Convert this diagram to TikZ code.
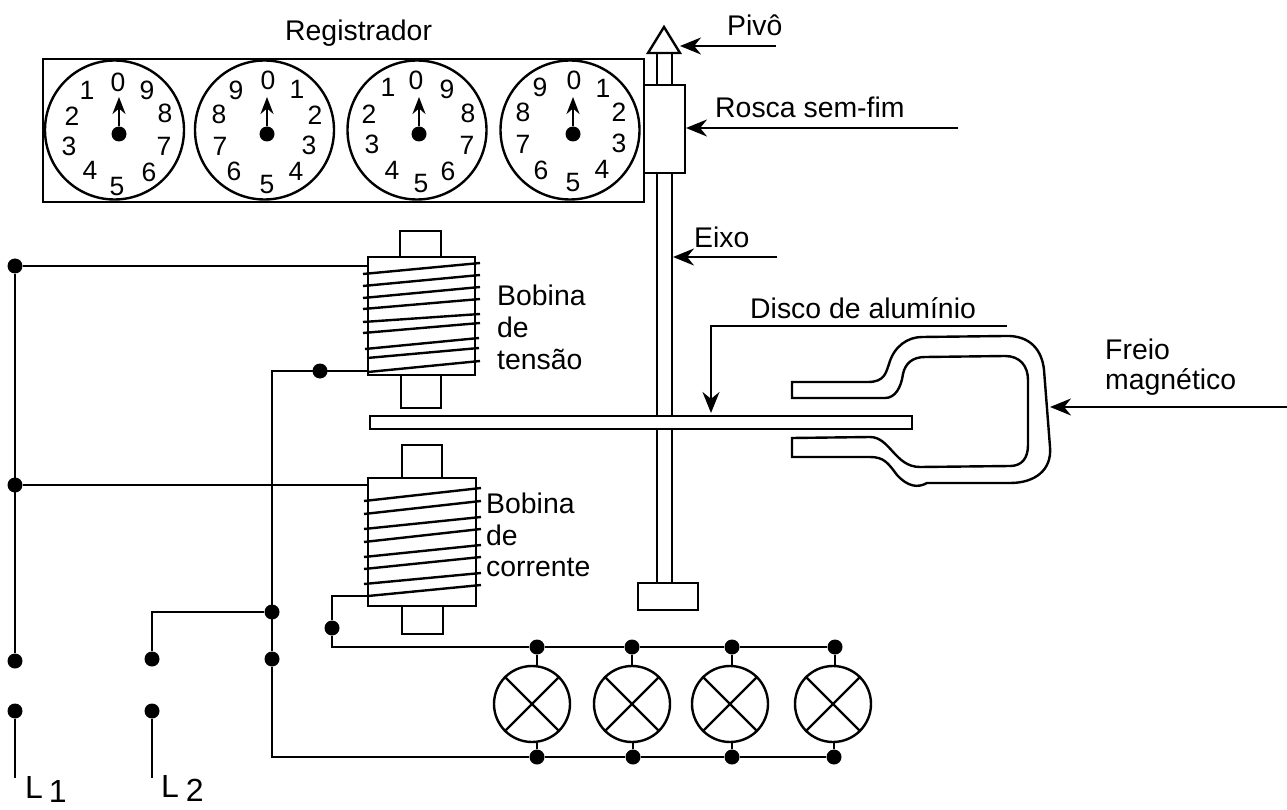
\documentclass[tikz,border=0pt]{standalone}
\usepackage{fontspec}
\setmainfont{Liberation Sans}
\usetikzlibrary{arrows.meta}
\tikzset{
  wire/.style={line width=2.4pt, line join=miter},
  pointer/.style={line width=2.4pt, -{Stealth[length=21pt,width=17pt]}},
  needle/.style={line width=2.6pt, -{Stealth[length=17pt,width=13pt]}},
  dial/.style={circle, draw, line width=2.4pt, minimum size=139pt, inner sep=0pt},
  lamp/.style={circle, draw, line width=2.4pt, minimum size=76pt, inner sep=0pt},
  dot/.style={circle, fill=black, minimum size=15pt, inner sep=0pt},
  hub/.style={circle, fill=black, minimum size=15pt, inner sep=0pt},
  digit/.style={draw=none, inner sep=0pt, font=\fontsize{26.5}{26.5}\selectfont},
  lbl/.style={draw=none, inner sep=0pt, anchor=west, font=\fontsize{28.4}{28.4}\selectfont},
  line/.style={draw=none, inner sep=0pt, anchor=west, font=\fontsize{32}{32}\selectfont}
}
\begin{document}
\begin{tikzpicture}[x=1pt,y=-1pt]
  \useasboundingbox (0,0) rectangle (1287,810);

  % registrador
  \node[lbl] (regname) at (285,33) {Registrador};
  \draw[wire] (43,59) rectangle (644,202);
  \node[dial] (dial1) at (114.5,130) {};
  \node[dial] (dial2) at (264.5,130) {};
  \node[dial] (dial3) at (417,130) {};
  \node[dial] (dial4) at (570,130) {};

  \node[digit] (a0) at (118,82) {0};
  \node[digit] (a1) at (87,90) {1};
  \node[digit] (a2) at (72,116) {2};
  \node[digit] (a3) at (69,146) {3};
  \node[digit] (a4) at (90,170) {4};
  \node[digit] (a5) at (117,187) {5};
  \node[digit] (a6) at (149,172) {6};
  \node[digit] (a7) at (164,146) {7};
  \node[digit] (a8) at (165,113) {8};
  \node[digit] (a9) at (147,90) {9};

  \node[digit] (b0) at (268,80) {0};
  \node[digit] (b1) at (297,89) {1};
  \node[digit] (b2) at (315,115) {2};
  \node[digit] (b3) at (309,145) {3};
  \node[digit] (b4) at (296,171) {4};
  \node[digit] (b5) at (267,185) {5};
  \node[digit] (b6) at (234,171) {6};
  \node[digit] (b7) at (220,146) {7};
  \node[digit] (b8) at (219,114) {8};
  \node[digit] (b9) at (236,90) {9};

  \node[digit] (c0) at (416,80) {0};
  \node[digit] (c1) at (388,87) {1};
  \node[digit] (c2) at (369,114) {2};
  \node[digit] (c3) at (372,144) {3};
  \node[digit] (c4) at (392,170) {4};
  \node[digit] (c5) at (421,184) {5};
  \node[digit] (c6) at (448,171) {6};
  \node[digit] (c7) at (467,145) {7};
  \node[digit] (c8) at (468,113) {8};
  \node[digit] (c9) at (447,89) {9};

  \node[digit] (d0) at (574,80) {0};
  \node[digit] (d1) at (603,88) {1};
  \node[digit] (d2) at (619,112) {2};
  \node[digit] (d3) at (619,143) {3};
  \node[digit] (d4) at (602,169) {4};
  \node[digit] (d5) at (573,183) {5};
  \node[digit] (d6) at (541,170) {6};
  \node[digit] (d7) at (523,144) {7};
  \node[digit] (d8) at (523,112) {8};
  \node[digit] (d9) at (540,87) {9};

  % ponteiros
  \node[hub] (hub1) at (119,134) {};
  \node[hub] (hub2) at (267,134) {};
  \node[hub] (hub3) at (419,134) {};
  \node[hub] (hub4) at (573,134) {};
  \coordinate (tip1) at (119,97);
  \coordinate (tip2) at (267,97);
  \coordinate (tip3) at (419,97);
  \coordinate (tip4) at (573,97);
  \draw[needle] (hub1) -- (tip1);
  \draw[needle] (hub2) -- (tip2);
  \draw[needle] (hub3) -- (tip3);
  \draw[needle] (hub4) -- (tip4);

  % eixo, pivo e rosca
  \draw[wire] (664,27) -- (680,53) -- (648,53) -- cycle;
  \draw[wire] (657,53) -- (657,85);
  \draw[wire] (672,53) -- (672,85);
  \draw[wire] (644,85) -- (685,85) -- (685,173) -- (644,173);
  \draw[wire] (657,173) -- (657,583);
  \draw[wire] (672,173) -- (672,583);
  \draw[wire] (638,583) rectangle (698,610);

  % disco
  \draw[wire, fill=white] (370,416) rectangle (912,429);

  % freio
  \draw[wire] (792,382) -- (868,382)
     .. controls (885,382) and (886,372) .. (889,364)
     .. controls (894,346) and (908,337) .. (922,337)
     -- (1005,336)
     .. controls (1030,335) and (1042,350) .. (1044,370)
     -- (1050,447)
     .. controls (1052,470) and (1035,483) .. (1010,483)
     -- (927,483)
     .. controls (918,488) and (908,487) .. (897,475)
     .. controls (888,463) and (884,457) .. (870,457)
     -- (792,457) -- (792,438) -- (870,437)
     .. controls (890,437) and (895,467) .. (920,467)
     -- (1010,466)
     .. controls (1022,466) and (1028,458) .. (1028,445)
     -- (1028,380)
     .. controls (1028,366) and (1020,356) .. (1005,356)
     -- (925,357)
     .. controls (912,357) and (905,364) .. (903,374)
     .. controls (901,388) and (895,398) .. (885,398)
     -- (792,398) -- cycle;

  % bobina de tensao
  \draw[wire] (400,257) -- (400,231) -- (441,231) -- (441,257);
  \draw[wire] (368,257) rectangle (475,375);
  \draw[wire] (401,375) -- (401,408) -- (441,408) -- (441,375);
  \draw[wire] (363,274) -- (480,263);
  \draw[wire] (363,286) -- (480,275);
  \draw[wire] (363,298) -- (480,287);
  \draw[wire] (363,309) -- (480,299);
  \draw[wire] (363,322) -- (480,314);
  \draw[wire] (363,333) -- (480,323);
  \draw[wire] (365,349) -- (479,338);
  \draw[wire] (367,358) -- (479,348);
  \draw[wire] (368,372) -- (480,361);
  \node[lbl] (tens1) at (497,295) {Bobina};
  \node[lbl] (tens2) at (497,327) {de};
  \node[lbl] (tens3) at (497,359) {tensão};

  % bobina de corrente
  \draw[wire] (402,478) -- (402,445) -- (442,445) -- (442,478);
  \draw[wire] (368,478) rectangle (476,606);
  \draw[wire] (402,606) -- (402,634) -- (443,634) -- (443,606);
  \draw[wire] (364,501) -- (481,488);
  \draw[wire] (364,514) -- (481,501);
  \draw[wire] (364,529) -- (481,517);
  \draw[wire] (364,542) -- (481,529);
  \draw[wire] (364,557) -- (481,545);
  \draw[wire] (364,569) -- (481,557);
  \draw[wire] (364,584) -- (481,573);
  \draw[wire] (368,596) -- (481,585);
  \node[lbl] (corr1) at (486,503) {Bobina};
  \node[lbl] (corr2) at (486,535) {de};
  \node[lbl] (corr3) at (486,567) {corrente};

  % setas e legendas
  \node[lbl] (pivname) at (727,25) {Pivô};
  \coordinate (pivfrom) at (776,46);
  \coordinate (pivto) at (680,46);
  \draw[pointer] (pivfrom) -- (pivto);
  \node[lbl] (rosname) at (715,107) {Rosca sem-fim};
  \coordinate (rosfrom) at (958,128);
  \coordinate (rosto) at (686,128);
  \draw[pointer] (rosfrom) -- (rosto);
  \node[lbl] (eixname) at (694,237) {Eixo};
  \coordinate (eixfrom) at (777,257);
  \coordinate (eixto) at (673,257);
  \draw[pointer] (eixfrom) -- (eixto);
  \node[lbl] (disname) at (750,308) {Disco de alumínio};
  \coordinate (disfrom) at (1007,326);
  \coordinate (disto) at (711,413);
  \draw[pointer] (disfrom) -| (disto);
  \node[lbl] (frename) at (1105,349) {Freio};
  \node[lbl] (frename2) at (1105,382) {magnético};
  \coordinate (frefrom) at (1287,407);
  \coordinate (freto) at (1050,407);
  \draw[pointer] (frefrom) -- (freto);

  % fiacao
  \node[dot] (n1) at (15,266) {};
  \node[dot] (n2) at (15,485) {};
  \node[dot] (n3) at (15,661) {};
  \node[dot] (n4) at (15,711) {};
  \node[dot] (n5) at (152,659) {};
  \node[dot] (n6) at (152,711) {};
  \node[dot] (n7) at (320,371) {};
  \node[dot] (n8) at (272,612) {};
  \node[dot] (n9) at (272,659) {};
  \node[dot] (n10) at (332,628) {};
  \coordinate (tensin) at (368,266);
  \coordinate (tensout) at (368,371);
  \coordinate (corrin) at (368,485);
  \coordinate (corrout) at (368,596);
  \coordinate (bend) at (272,371);
  \coordinate (l1end) at (15,778);
  \coordinate (l2end) at (152,778);
  \draw[wire] (n1) -- (tensin);
  \draw[wire] (n2) -- (corrin);
  \draw[wire] (n1) -- (n3);
  \draw[wire] (n4) -- (l1end);
  \draw[wire] (n6) -- (l2end);
  \draw[wire] (n8) -| (n5);
  \draw[wire] (tensout) -- (bend) -- (n9);
  \draw[wire] (corrout) -| (n10);

  % lampadas
  \node[lamp] (lamp1) at (532,704) {};
  \node[lamp] (lamp2) at (632,704) {};
  \node[lamp] (lamp3) at (730,704) {};
  \node[lamp] (lamp4) at (833,704) {};
  \draw[wire] (lamp1.45) -- (lamp1.225);
  \draw[wire] (lamp1.135) -- (lamp1.315);
  \draw[wire] (lamp2.45) -- (lamp2.225);
  \draw[wire] (lamp2.135) -- (lamp2.315);
  \draw[wire] (lamp3.45) -- (lamp3.225);
  \draw[wire] (lamp3.135) -- (lamp3.315);
  \draw[wire] (lamp4.45) -- (lamp4.225);
  \draw[wire] (lamp4.135) -- (lamp4.315);

  \node[dot] (t1) at (537,647) {};
  \node[dot] (t2) at (632,647) {};
  \node[dot] (t3) at (732,647) {};
  \node[dot] (t4) at (835,647) {};
  \node[dot] (u1) at (537,757) {};
  \node[dot] (u2) at (633,757) {};
  \node[dot] (u3) at (732,757) {};
  \node[dot] (u4) at (834,757) {};
  \coordinate (ubend) at (272,757);
  \draw[wire] (n10) |- (t1);
  \draw[wire] (t1) -- (t2);
  \draw[wire] (t2) -- (t3);
  \draw[wire] (t3) -- (t4);
  \draw[wire] (n9) -- (ubend) -- (u1);
  \draw[wire] (u1) -- (u2);
  \draw[wire] (u2) -- (u3);
  \draw[wire] (u3) -- (u4);
  \draw[wire] (t1) -- (t1 |- lamp1.north);
  \draw[wire] (t2) -- (t2 |- lamp2.north);
  \draw[wire] (t3) -- (t3 |- lamp3.north);
  \draw[wire] (t4) -- (t4 |- lamp4.north);
  \draw[wire] (u1) -- (u1 |- lamp1.south);
  \draw[wire] (u2) -- (u2 |- lamp2.south);
  \draw[wire] (u3) -- (u3 |- lamp3.south);
  \draw[wire] (u4) -- (u4 |- lamp4.south);

  \node[line] (l1) at (25,789) {L\kern6pt\lower4pt\hbox{1}};
  \node[line] (l2) at (161,788) {L\kern7pt\lower4pt\hbox{2}};
\end{tikzpicture}
\end{document}
